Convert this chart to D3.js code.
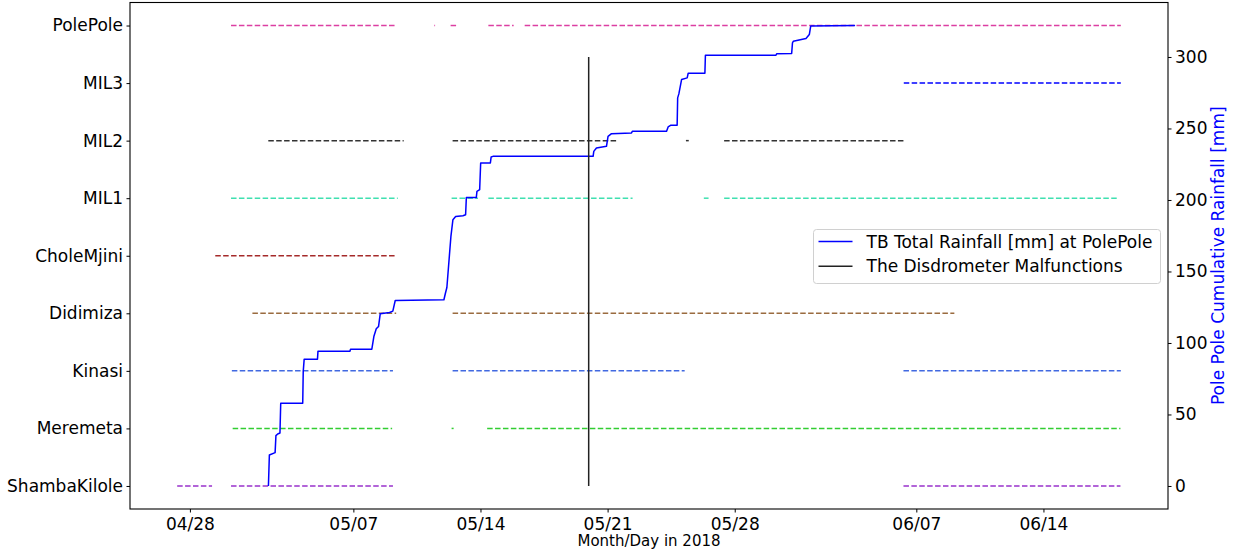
<!DOCTYPE html>
<html><head><meta charset="utf-8">
<script src="https://cdn.jsdelivr.net/npm/d3@7"></script>
<style>
body{margin:0;background:#fff}
text{font-family:"DejaVu Sans",sans-serif}
</style>
</head><body>
<svg id="c" width="1234" height="555"></svg>
<script>
// ---------- data ----------
const stations = ["ShambaKilole","Meremeta","Kinasi","Didimiza","CholeMjini","MIL1","MIL2","MIL3","PolePole"];
const stationColors = ["darkorchid","limegreen","royalblue","#9a6b3f","brown","#3fe0b0","#333","blue","#dc3fa2"];

const shambaKiloleSegments = [["2018-04-27 07:10","2018-04-29 05:15"],["2018-04-30 06:20","2018-05-09 04:20"],["2018-06-06 07:00","2018-06-18 05:45"]];
const meremetaSegments = [["2018-04-30 08:30","2018-05-09 03:15"],["2018-05-12 09:50","2018-05-12 12:30"],["2018-05-14 08:50","2018-06-18 05:45"]];
const kinasiSegments = [["2018-04-30 07:25","2018-05-09 04:20"],["2018-05-12 11:10","2018-05-25 05:50"],["2018-06-06 07:00","2018-06-18 06:15"]];
const didimizaSegments = [["2018-05-01 10:35","2018-05-09 08:35"],["2018-05-12 11:10","2018-06-09 02:15"]];
const choleMjiniSegments = [["2018-04-29 09:30","2018-05-09 08:00"]];
const mil1Segments = [["2018-04-30 06:20","2018-05-09 10:40"],["2018-05-12 09:50","2018-05-13 20:45"],["2018-05-14 10:25","2018-05-22 09:00"],["2018-05-26 07:10","2018-05-26 13:25"],["2018-05-27 10:00","2018-06-18 03:35"]];
const mil2Segments = [["2018-05-02 07:35","2018-05-09 18:30"],["2018-05-12 11:10","2018-05-21 13:30"],["2018-05-25 07:30","2018-05-25 11:15"],["2018-05-27 10:00","2018-06-06 07:25"]];
const mil3Segments = [["2018-06-06 07:25","2018-06-18 06:15"]];
const polePoleSegments = [["2018-04-30 06:20","2018-05-09 08:00"],["2018-05-11 11:00","2018-05-11 12:00"],["2018-05-12 08:30","2018-05-12 16:00"],["2018-05-14 10:25","2018-05-15 19:50"],["2018-05-16 10:25","2018-06-18 06:15"]];
const stationSegments = [shambaKiloleSegments,meremetaSegments,kinasiSegments,didimizaSegments,choleMjiniSegments,mil1Segments,mil2Segments,mil3Segments,polePoleSegments];

const rainTimes = ["2018-05-02 07:45","2018-05-02 09:00","2018-05-02 16:35","2018-05-02 17:40","2018-05-02 20:00","2018-05-02 23:00","2018-05-03 00:00",
"2018-05-04 05:05","2018-05-04 05:45","2018-05-04 07:00","2018-05-05 00:35","2018-05-05 01:15","2018-05-06 19:35","2018-05-06 20:15",
"2018-05-08 00:25","2018-05-08 03:05","2018-05-08 06:15","2018-05-08 09:15","2018-05-08 11:30","2018-05-08 23:50","2018-05-09 04:10","2018-05-09 07:20",
"2018-05-11 23:40","2018-05-12 01:30","2018-05-12 03:35","2018-05-12 08:55","2018-05-12 11:35","2018-05-12 15:10","2018-05-13 00:50","2018-05-13 04:20",
"2018-05-13 05:20","2018-05-13 18:30","2018-05-13 19:20","2018-05-13 22:55","2018-05-14 00:15","2018-05-14 13:05","2018-05-14 14:05","2018-05-14 16:30",
"2018-05-20 04:50","2018-05-20 05:45","2018-05-20 09:15","2018-05-20 22:30","2018-05-21 00:35","2018-05-21 05:10","2018-05-22 07:35","2018-05-22 08:40",
"2018-05-24 05:55","2018-05-24 08:00","2018-05-24 11:10","2018-05-24 19:55","2018-05-24 20:35","2018-05-24 22:10","2018-05-25 01:45","2018-05-25 09:10",
"2018-05-25 10:30","2018-05-26 08:35","2018-05-26 09:15","2018-05-30 06:30","2018-05-30 07:25","2018-05-31 03:15","2018-05-31 04:20","2018-05-31 05:25",
"2018-05-31 22:10","2018-06-01 02:35","2018-06-01 04:25","2018-06-03 15:05"];
const rainValues = [0,21.7,23.3,35.2,36.4,37.0,57.9,
57.9,80.0,88.7,88.7,94.3,94.3,95.7,
95.7,104.5,109.9,111.5,120.4,121.3,122.3,129.7,
130.2,134.4,138.8,174.5,186.2,188.5,189.0,189.7,
201.8,201.8,206.0,207.2,225.9,225.9,230.1,230.5,
230.5,234.0,236.4,237.5,244.5,246.4,246.9,248.0,
248.0,251.1,252.2,252.2,271.4,274.2,284.2,285.4,
288.6,288.6,301.2,301.2,302.2,302.5,309.9,311.0,
312.9,315.7,321.6,322.0];

const malfunctionTime = "2018-05-19 23:00";
const malfunctionRange = [0, 300];

const xTickDates = ["2018-04-28","2018-05-07","2018-05-14","2018-05-21","2018-05-28","2018-06-07","2018-06-14"];
const rightTicks = [0,50,100,150,200,250,300];
const legendLabels = ["TB Total Rainfall [mm] at PolePole","The Disdrometer Malfunctions"];
const legendColors = ["blue","#222"];

// ---------- layout ----------
const W = 1234, H = 555;
const M = {left:130, top:2.5, right:66, bottom:46};
const pw = W - M.left - M.right, ph = H - M.top - M.bottom;
const parseT = d3.timeParse("%Y-%m-%d %H:%M");
const parseD = d3.timeParse("%Y-%m-%d");

const allTimes = stationSegments.flat(2).map(parseT);
const tExt = d3.extent(allTimes);
const pad = (tExt[1] - tExt[0]) * 0.05;
const x = d3.scaleTime().domain([new Date(+tExt[0] - pad), new Date(+tExt[1] + pad)]).range([0, pw]);
const yCat = d3.scaleLinear().domain([-0.4, stations.length - 1 + 0.4]).range([ph, 0]);
const rMax = d3.max(rainValues);
const yR = d3.scaleLinear().domain([-rMax*0.05, rMax*1.05]).range([ph, 0]);

const svg = d3.select("#c");
const g = svg.append("g").attr("transform", `translate(${M.left},${M.top})`);

// station dashed lines
stationSegments.forEach((segs, i) => {
  segs.forEach(s => {
    g.append("line")
      .attr("x1", x(parseT(s[0]))).attr("x2", x(parseT(s[1])))
      .attr("y1", yCat(i)).attr("y2", yCat(i))
      .attr("stroke", stationColors[i]).attr("stroke-width", 1.5)
      .attr("stroke-dasharray", "5.5,2.4");
  });
});

// rainfall curve
const rain = rainTimes.map((t, i) => [parseT(t), rainValues[i]]);
g.append("path").datum(rain)
  .attr("d", d3.line().x(d => x(d[0])).y(d => yR(d[1])))
  .attr("fill", "none").attr("stroke", "blue").attr("stroke-width", 1.5)
  .attr("stroke-linejoin", "round");

// malfunction line
g.append("line")
  .attr("x1", x(parseT(malfunctionTime))).attr("x2", x(parseT(malfunctionTime)))
  .attr("y1", yR(malfunctionRange[0])).attr("y2", yR(malfunctionRange[1]))
  .attr("stroke", "#222").attr("stroke-width", 1.5);

// axes
const fmt = d3.timeFormat("%m/%d");
const xAxis = g.append("g").attr("transform", `translate(0,${ph})`)
  .call(d3.axisBottom(x).tickValues(xTickDates.map(parseD)).tickFormat(fmt).tickSize(3.5).tickPadding(5).tickSizeOuter(0));
const yAxisL = g.append("g")
  .call(d3.axisLeft(yCat).tickValues(d3.range(stations.length)).tickFormat(i => stations[i]).tickSize(3.5).tickPadding(3.5).tickSizeOuter(0));
const yAxisR = g.append("g").attr("transform", `translate(${pw},0)`)
  .call(d3.axisRight(yR).tickValues(rightTicks).tickSize(3.5).tickPadding(3.5).tickSizeOuter(0));
[xAxis, yAxisL, yAxisR].forEach(a => {
  a.selectAll("text").attr("font-size", 17).attr("fill", "#000").attr("font-family", "DejaVu Sans");
  a.selectAll("line").attr("stroke", "#000");
  a.select(".domain").remove();
});
// frame
g.append("rect").attr("x", 0).attr("y", 0).attr("width", pw).attr("height", ph)
  .attr("fill", "none").attr("stroke", "#000").attr("stroke-width", 1.1);

// axis labels
svg.append("text").attr("x", M.left + pw/2).attr("y", 546).attr("text-anchor", "middle")
  .attr("font-size", 15).attr("fill", "#000").text("Month/Day in 2018");
svg.append("text").attr("transform", `translate(1218,${M.top + ph/2}) rotate(-90)`)
  .attr("text-anchor", "middle").attr("dominant-baseline", "central")
  .attr("font-size", 17).attr("fill", "blue").text("Pole Pole Cumulative Rainfall [mm]");

// legend
const lg = svg.append("g").attr("transform", "translate(813.5,229.5)");
lg.append("rect").attr("width", 347).attr("height", 54).attr("rx", 3)
  .attr("fill", "#fff").attr("fill-opacity", 0.8).attr("stroke", "#d0d0d0");
legendLabels.forEach((lab, i) => {
  const yy = 12 + i * 24.7;
  lg.append("line").attr("x1", 5).attr("x2", 39).attr("y1", yy).attr("y2", yy)
    .attr("stroke", legendColors[i]).attr("stroke-width", 1.5);
  lg.append("text").attr("x", 53).attr("y", yy).attr("dominant-baseline", "central")
    .attr("font-size", 17).attr("fill", "#000").text(lab);
});
</script>
</body></html>
